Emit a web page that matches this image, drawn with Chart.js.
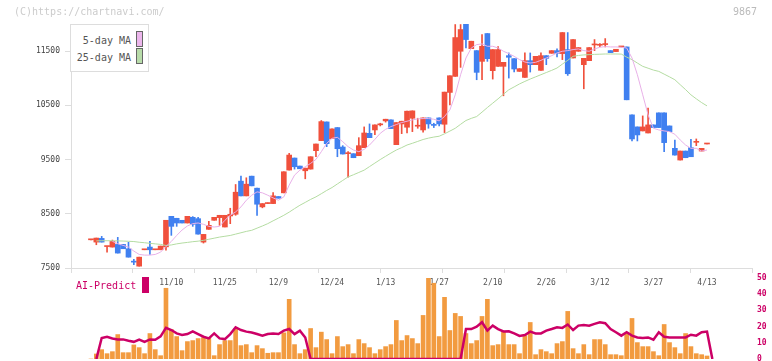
<!DOCTYPE html>
<html><head><meta charset="utf-8">
<script src="https://cdn.jsdelivr.net/npm/chart.js@4/dist/chart.umd.min.js"></script>
<style>
html,body{margin:0;padding:0;background:#fff;}
#wrap{position:relative;width:772px;height:361px;overflow:hidden;font-family:"DejaVu Sans Mono",monospace;}
canvas{position:absolute;left:0;top:0;}
#c1{z-index:1}#c2{z-index:2}
.t{position:absolute;white-space:nowrap;z-index:3;line-height:12px;}
#legend{position:absolute;left:70px;top:24px;width:77px;height:46px;border:1px solid #ddd;background:#fff;z-index:3;}
.lt{position:absolute;right:17px;font-size:10px;color:#555;line-height:12px;white-space:nowrap;}
.lb{position:absolute;left:65px;width:5px;height:14px;border:1px solid #666;}
</style></head><body>
<div id="wrap">
<canvas id="c1" width="772" height="361"></canvas>
<canvas id="c2" width="772" height="370"></canvas>
<div class="t" style="left:14px;top:6px;font-size:10px;color:#ccc">(C)https://chartnavi.com/</div>
<div class="t" style="left:733px;top:6px;font-size:10px;color:#bbb">9867</div>
<div id="legend">
  <div class="lt" style="top:10px">5-day MA</div><div class="lb" style="top:6px;background:#ecb6ec"></div>
  <div class="lt" style="top:27px">25-day MA</div><div class="lb" style="top:23px;background:#b8dcaa"></div>
</div>
<div class="t" style="left:76px;top:280px;font-size:10px;color:#cc0066">AI-Predict</div>
<div style="position:absolute;left:142px;top:277px;width:7px;height:16px;background:#cc0066;z-index:3"></div>
</div>
<script>
const tickIdx = [15,25,35,45,55,65,75,85,95,105,115];
const tickLabels = ['11/10','11/25','12/9','12/24','1/13','1/27','2/10','2/26','3/12','3/27','4/13'];
const priceTicks = [7500,8500,9500,10500,11500];
const aiTicks = [0,10,20,30,40,50];

const open = [
 8020,7978,8046,7895,7886,7935,7935,7855,7608,7534,
 7836,7886,7836,7836,7890,8453,8417,8380,8330,8435,
 8410,7978,8213,8380,8429,8256,8460,8491,9102,8830,
 9194,8972,8627,8688,8688,8818,8886,9306,9528,9380,
 9293,9324,9664,9849,10194,9886,10090,9731,9608,9608,
 9571,9719,9984,10046,10140,10213,10232,9775,10157,10096,
 10262,10115,10046,10268,10140,10268,10151,10738,11034,11497,
 12000,11546,11509,11311,11824,11139,11219,11219,11416,11361,
 11126,11015,11324,11250,11145,11416,11460,11509,11454,11528,
 11373,11497,11250,11324,11614,11608,11620,11509,11491,11577,
 11577,10324,10102,10028,9990,10139,10361,10361,10120,9707,
 9491,9657,9719,9818,9657,9787];
const close = [
 8020,8052,7978,7895,7990,7775,7855,7700,7608,7700,
 7836,7836,7836,7904,8380,8268,8330,8330,8453,8306,
 8125,8120,8287,8435,8472,8472,8491,8898,8830,9046,
 9015,8676,8688,8700,8830,8787,9275,9583,9367,9330,
 9342,9552,9787,10200,9793,10065,9700,9602,9620,9534,
 9756,9990,9904,10139,10150,10244,10071,10182,10207,10392,
 10398,10125,10268,10157,10130,10157,10744,11046,11750,11898,
 11713,11682,11108,11589,11361,11528,11528,11293,11386,11170,
 11176,11324,11250,11404,11416,11367,11509,11460,11842,11083,
 11713,11565,11367,11565,11614,11608,11620,11472,11534,11577,
 10602,9880,9954,10102,10139,10090,10090,9812,10015,9583,
 9657,9534,9552,9818,9707,9787];
const high = [
 8020,8052,8083,7895,8015,8065,7935,7975,7660,7700,
 7836,7990,7836,7904,8380,8453,8417,8380,8453,8448,
 8435,8120,8361,8435,8472,8472,8602,9040,9194,9164,
 9194,8972,8688,8700,8892,8818,9275,9614,9528,9380,
 9342,9552,9787,10220,10194,10065,10090,9756,9645,9608,
 9904,10102,10157,10139,10170,10244,10232,10182,10207,10392,
 10398,10262,10268,10268,10170,10268,10744,11046,11990,11990,
 12000,11682,11509,11805,11824,11528,11583,11293,11466,11361,
 11176,11466,11466,11404,11466,11416,11509,11540,11842,11842,
 11713,11565,11367,11565,11713,11640,11731,11509,11534,11577,
 11577,10324,10102,10305,10448,10139,10361,10361,10120,9861,
 9657,9657,9873,9880,9707,9787];
const low = [
 8020,7929,7978,7793,7886,7775,7855,7700,7560,7534,
 7836,7750,7836,7836,7830,8102,8268,8330,8330,8268,
 8125,7960,8213,8380,8287,8256,8318,8472,8830,8830,
 9015,8472,8610,8688,8688,8787,8886,9306,9324,9330,
 9145,9324,9552,9849,9738,9886,9552,9602,9176,9534,
 9571,9719,9904,9960,10120,10190,10071,9775,9978,9990,
 10015,10077,10003,10077,10090,10120,9997,10509,11034,11200,
 11558,11546,10972,10972,11311,10984,11219,10676,11003,11114,
 11126,11015,11114,11250,11145,11250,11460,11395,11343,11052,
 11373,11497,10805,11324,11509,11580,11577,11472,11491,11577,
 10602,9843,9843,10028,9990,10090,10090,9645,10015,9583,
 9491,9534,9552,9756,9657,9787];
const blueDoji = [8];

const ma5 = [
 null,null,null,null,7991,7948,7917,7886,7812,7750,
 7738,7738,7750,7793,7898,7990,8100,8200,8275,8318,
 8330,8306,8268,8256,8268,8380,8472,8534,8627,8750,
 8842,8904,8886,8842,8793,8750,8812,9028,9213,9305,
 9367,9429,9503,9645,9799,9892,9910,9830,9738,9676,
 9645,9688,9768,9873,9984,10058,10108,10145,10182,10207,
 10231,10250,10256,10256,10244,10213,10293,10416,10694,11065,
 11373,11558,11620,11633,11589,11589,11558,11497,11454,11404,
 11343,11299,11281,11293,11330,11373,11416,11466,11497,11509,
 11528,11540,11509,11497,11540,11571,11583,11577,11577,11571,
 11558,11373,11065,10694,10324,10077,10046,10028,10015,9966,
 9861,9768,9707,9707,9657,9676];
const ma25 = [
 null,8000,8003,8003,8003,8000,7997,7993,7988,7975,
 7966,7955,7945,7935,7915,7925,7945,7960,7972,7985,
 7995,8010,8030,8050,8070,8085,8100,8125,8150,8175,
 8195,8235,8275,8318,8370,8420,8472,8530,8595,8657,
 8710,8765,8812,8870,8930,8984,9050,9115,9180,9220,
 9262,9305,9370,9435,9500,9560,9620,9676,9720,9768,
 9800,9835,9870,9895,9915,9930,9975,10025,10077,10150,
 10220,10260,10293,10375,10460,10540,10620,10705,10787,10840,
 10895,10941,10985,11025,11065,11105,11145,11188,11260,11330,
 11404,11420,11430,11435,11440,11443,11447,11447,11447,11445,
 11390,11343,11280,11219,11185,11150,11126,11075,11025,10972,
 10880,10790,10694,10620,10550,10490];

const volume = [
 0,5,9.3,5.3,7.3,24.3,6.3,6.3,14,11.3,
 5.3,25.3,9.3,3.3,70.3,29.3,22.3,8.3,17.3,18.3,
 20.3,21.3,21.3,3.3,14.3,18.3,18.3,30.3,13.3,14.3,
 6.3,13.3,10.3,5.7,6.3,6.3,26,59.3,14.3,5.3,
 9.3,30.3,11.3,26.7,19.3,5.3,22.3,12.3,14.3,5.3,
 19.3,15.3,11.3,5.3,9.3,12.3,14.3,38.3,18.3,23.3,
 20.3,15.3,43.3,80.3,75.3,22.3,61.3,28.3,45.3,42.3,
 25.3,15.3,18.3,42.3,59.3,13.3,14.3,27.3,14.3,14.3,
 5.3,23.3,36.3,4.3,9.3,7.3,5.3,15.3,17.3,47.3,
 10.3,5.3,14.3,4.3,19.3,19.3,14.3,4.3,4.3,3.3,
 25.3,40.3,16.3,12.3,12.3,7.3,3.3,34.3,16.3,11.3,
 5.3,25.3,12.3,5.3,4.3,3];
const aiPredict = [
 null,0,13,13.75,12.7,12.1,12.1,11.25,10.6,12,
 10.6,12.1,11.9,14,19.2,17.9,15.8,14.8,15.4,17.1,
 15.4,13.75,12.7,15.8,12.7,12.3,15.4,19.6,17.9,16.9,
 16.3,15.4,14.4,15.4,15.8,15.4,17.5,18.5,15.4,17.5,
 13.3,0,0,0,0,0,0,0,0,0,
 0,0,0,0,0,0,0,0,0,0,
 0,0,0,0,0,0,0,0,0,0,
 18.5,18.5,20,22.7,17.5,20.6,18.5,17,17.1,15.8,
 14.2,14.8,16.9,15.8,15.8,17.5,18.5,19.6,19.2,21.3,
 17.9,20.6,21,20.6,21.7,22.7,22.1,18.5,16.5,14.4,
 16.5,14.4,13.3,12.9,13.3,11.9,16.5,13.75,13.3,13.3,
 13.3,13.3,15,14.4,16.5,16.9,0];

const RED = '#f0503c', BLUE = '#4080f0';
const FONT = "'DejaVu Sans Mono', monospace";
Chart.defaults.font.family = FONT;
const xMin = -3.73, xMax = 123.4;
const candleColor = open.map((o,i)=> close[i]>o ? RED : close[i]<o ? BLUE : (blueDoji.includes(i)?BLUE:RED));
const pts = arr => arr.map((v,i)=>({x:i,y:v}));

new Chart(document.getElementById('c1'), {
  type:'bar',
  data:{datasets:[
    {type:'line', data:pts(ma5), borderColor:'#e8b0e8', borderWidth:1, pointRadius:0, order:0, tension:0},
    {type:'line', data:pts(ma25), borderColor:'#b4dca2', borderWidth:1, pointRadius:0, order:0, tension:0},
    {data:open.map((o,i)=>({x:i,y:[o,close[i]]})), backgroundColor:candleColor, barThickness:5, minBarLength:1, grouped:false, order:1},
    {data:low.map((l,i)=>({x:i,y:[l,high[i]]})), backgroundColor:candleColor, barThickness:1, grouped:false, order:2}
  ]},
  options:{
    responsive:false, animation:false, events:[],
    layout:{padding:{top:24,right:20,left:0,bottom:65}},
    plugins:{legend:{display:false}, tooltip:{enabled:false}},
    scales:{
      x:{type:'linear', min:xMin, max:xMax, offset:false, position:'bottom',
        grid:{display:true, offset:false, drawOnChartArea:false, drawTicks:true, tickLength:5, color:'#dddddd'},
        border:{display:true, color:'#dddddd'}, ticks:{display:false},
        afterBuildTicks:s=>{s.ticks = Array.from({length:12},(_,i)=>({value:xMin+i*(xMax-xMin)/11}));},
        afterFit:s=>{s.height=8;}},
      x2:{type:'linear', min:xMin, max:xMax, offset:false, position:'bottom',
        grid:{display:false, drawTicks:false, tickLength:0}, border:{display:false},
        ticks:{color:'#555', font:{size:8, family:FONT}, padding:2, maxRotation:0, autoSkip:false,
          callback:(v,i)=>tickLabels[i]},
        afterBuildTicks:s=>{s.ticks = tickIdx.map(v=>({value:v}));},
        afterFit:s=>{s.height=20;}},
      y:{type:'linear', min:7500, max:12000, position:'left',
        grid:{display:true, drawOnChartArea:false, drawTicks:true, tickLength:6, color:'#dddddd'},
        border:{display:true, color:'#dddddd'},
        ticks:{color:'#444', font:{size:8, family:FONT}, padding:5, callback:v=>String(v)},
        afterBuildTicks:s=>{s.ticks = priceTicks.map(v=>({value:v}));},
        afterFit:s=>{s.width=71;}}
    }
  }
});

new Chart(document.getElementById('c2'), {
  type:'bar',
  data:{datasets:[
    {type:'line', data:pts(aiPredict), borderColor:'#cc0066', borderWidth:2.5, pointRadius:0, yAxisID:'yAI', order:0, tension:0},
    {data:pts(volume), backgroundColor:'#f29b40', barThickness:4, yAxisID:'yVol', order:1}
  ]},
  options:{
    responsive:false, animation:false, events:[],
    layout:{padding:{top:278,left:71,right:0,bottom:11}},
    plugins:{legend:{display:false}, tooltip:{enabled:false}},
    scales:{
      x:{type:'linear', min:xMin, max:xMax, offset:false, display:false, grid:{offset:false}},
      yVol:{type:'linear', position:'left', min:0, max:80.5, display:false},
      yAI:{type:'linear', position:'right', min:0, max:50,
        grid:{display:false, drawTicks:false, tickLength:0}, border:{display:false},
        ticks:{color:'#cc0066', font:{size:8, weight:'bold', family:FONT}, padding:5, callback:v=>String(v)},
        afterBuildTicks:s=>{s.ticks = aiTicks.map(v=>({value:v}));},
        afterFit:s=>{s.width=20;}}
    }
  }
});
</script>
</body></html>
